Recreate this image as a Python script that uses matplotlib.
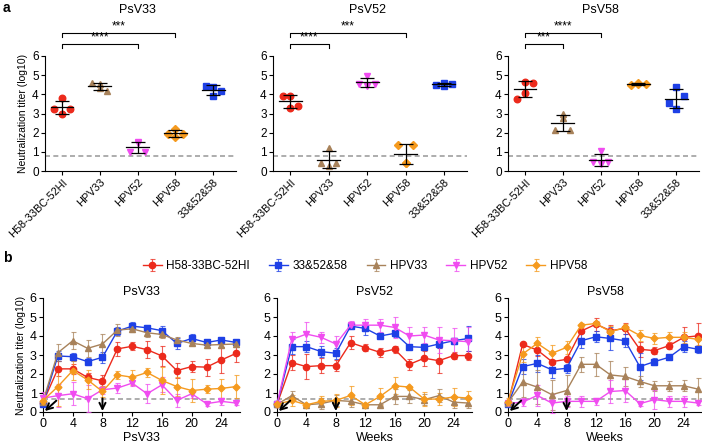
import numpy as np
import matplotlib.pyplot as plt

plt.rcParams["font.family"] = ["Liberation Sans", "DejaVu Sans"]
plt.rcParams["font.size"] = 7.5

# ---- panel a: endpoint titers (4 mice per group) ----
groups = ["H58-33BC-52HI", "HPV33", "HPV52", "HPV58", "33&52&58"]
psv_names = ["PsV33", "PsV52", "PsV58"]

titer_psv33 = [
    [3.25, 3.81, 3.25, 2.99],
    [4.60, 4.55, 4.20, 4.35],
    [1.00, 1.50, 1.00, 1.45],
    [1.95, 2.20, 1.95, 1.75],
    [4.45, 4.40, 4.15, 3.90],
]
titer_psv52 = [
    [3.93, 3.93, 3.41, 3.27],
    [0.44, 1.22, 0.44, 0.26],
    [4.55, 4.95, 4.55, 4.45],
    [1.35, 0.44, 1.35, 0.44],
    [4.50, 4.60, 4.55, 4.45],
]
titer_psv58 = [
    [3.77, 4.64, 4.57, 4.09],
    [2.14, 2.96, 2.14, 2.78],
    [0.47, 1.05, 0.47, 0.38],
    [4.50, 4.60, 4.55, 4.55],
    [3.57, 4.40, 3.90, 3.25],
]
titers_a = [titer_psv33, titer_psv52, titer_psv58]

# significance brackets: (group a, group b, label, level)
sig_psv33 = [(0, 3, "***", "upper"), (0, 2, "****", "lower")]
sig_psv52 = [(0, 3, "***", "upper"), (0, 1, "****", "lower")]
sig_psv58 = [(0, 2, "****", "upper"), (0, 1, "***", "lower")]
sigs = [sig_psv33, sig_psv52, sig_psv58]

cutoff_a = 0.78
cutoff_b = 0.68

# ---- panel b: time course ----
weeks = [0, 2, 4, 6, 8, 10, 12, 14, 16, 18, 20, 22, 24, 26]
series_names = ["H58-33BC-52HI", "33&52&58", "HPV33", "HPV52", "HPV58"]

# PsV33
b33_mean = {
    "H58-33BC-52HI": [0.50, 2.27, 2.27, 1.82, 1.64, 3.32, 3.46, 3.28, 2.95, 2.18, 2.39, 2.36, 2.74, 3.09],
    "33&52&58":      [0.42, 2.95, 2.91, 2.65, 2.88, 4.26, 4.52, 4.43, 4.28, 3.61, 3.87, 3.66, 3.79, 3.66],
    "HPV33":         [0.55, 3.12, 3.75, 3.35, 3.58, 4.31, 4.38, 4.17, 4.08, 3.79, 3.61, 3.52, 3.55, 3.58],
    "HPV52":         [0.73, 0.86, 0.96, 0.70, 1.17, 1.26, 1.52, 0.96, 1.43, 0.61, 0.96, 0.44, 0.56, 0.47],
    "HPV58":         [0.60, 1.34, 2.18, 1.69, 1.08, 1.95, 1.83, 2.08, 1.66, 1.34, 1.13, 1.20, 1.24, 1.34],
}
b33_sd = {
    "H58-33BC-52HI": [0.10, 0.40, 0.25, 0.25, 0.30, 0.35, 0.20, 0.45, 0.55, 0.40, 0.30, 0.45, 0.70, 0.45],
    "33&52&58":      [0.05, 0.25, 0.20, 0.20, 0.30, 0.20, 0.20, 0.15, 0.25, 0.30, 0.25, 0.10, 0.10, 0.15],
    "HPV33":         [0.10, 0.45, 0.45, 0.45, 0.55, 0.30, 0.15, 0.20, 0.20, 0.15, 0.10, 0.15, 0.15, 0.15],
    "HPV52":         [0.30, 0.60, 0.60, 0.70, 0.20, 0.25, 0.15, 0.50, 0.40, 0.35, 0.20, 0.10, 0.20, 0.10],
    "HPV58":         [0.20, 1.00, 0.50, 0.50, 0.30, 0.20, 0.40, 0.25, 0.70, 0.50, 0.60, 0.20, 0.50, 0.60],
}
# PsV52
b52_mean = {
    "H58-33BC-52HI": [0.40, 2.60, 2.39, 2.44, 2.44, 3.65, 3.39, 3.14, 3.30, 2.51, 2.83, 2.70, 2.97, 2.97],
    "33&52&58":      [0.40, 3.44, 3.44, 3.18, 3.09, 4.52, 4.40, 4.00, 4.14, 3.44, 3.40, 3.58, 3.75, 3.87],
    "HPV33":         [0.40, 0.86, 0.38, 0.44, 0.61, 0.56, 0.38, 0.38, 0.82, 0.82, 0.65, 0.86, 0.52, 0.47],
    "HPV52":         [0.40, 3.82, 4.10, 3.93, 3.58, 4.57, 4.57, 4.57, 4.45, 4.00, 4.05, 3.79, 3.75, 3.70],
    "HPV58":         [0.40, 0.61, 0.38, 0.56, 0.61, 0.87, 0.38, 0.82, 1.38, 1.31, 0.68, 0.68, 0.79, 0.73],
}
b52_sd = {
    "H58-33BC-52HI": [0.05, 0.40, 0.65, 0.40, 0.30, 0.35, 0.20, 0.25, 0.20, 0.30, 0.40, 0.65, 0.20, 0.25],
    "33&52&58":      [0.05, 0.40, 0.30, 0.30, 0.30, 0.10, 0.35, 0.10, 0.20, 0.10, 0.10, 0.20, 0.15, 0.65],
    "HPV33":         [0.05, 0.25, 0.05, 0.30, 0.30, 0.30, 0.05, 0.05, 0.40, 0.35, 0.30, 0.35, 0.30, 0.25],
    "HPV52":         [0.05, 0.40, 0.65, 0.30, 0.40, 0.20, 0.30, 0.35, 0.55, 0.50, 0.40, 0.70, 0.65, 0.80],
    "HPV58":         [0.05, 0.30, 0.05, 0.30, 0.35, 0.50, 0.05, 0.45, 0.45, 0.05, 0.35, 0.30, 0.45, 0.40],
}
# PsV58
b58_mean = {
    "H58-33BC-52HI": [0.45, 3.56, 3.26, 2.65, 2.77, 4.26, 4.62, 4.28, 4.40, 3.30, 3.23, 3.49, 3.93, 4.01],
    "33&52&58":      [0.40, 2.39, 2.56, 2.22, 2.30, 3.75, 3.96, 3.87, 3.75, 2.39, 2.65, 2.88, 3.44, 3.30],
    "HPV33":         [0.50, 1.57, 1.31, 0.91, 1.13, 2.51, 2.51, 1.95, 1.87, 1.61, 1.38, 1.38, 1.38, 1.20],
    "HPV52":         [0.45, 0.52, 0.87, 0.47, 0.56, 0.56, 0.56, 1.08, 1.13, 0.44, 0.65, 0.56, 0.56, 0.47],
    "HPV58":         [0.55, 3.05, 3.61, 3.09, 3.40, 4.57, 4.66, 4.22, 4.45, 4.03, 3.87, 3.93, 3.93, 3.82],
}
b58_sd = {
    "H58-33BC-52HI": [0.05, 0.05, 0.30, 0.10, 0.10, 0.10, 0.35, 0.30, 0.30, 0.40, 0.20, 0.20, 0.55, 0.70],
    "33&52&58":      [0.05, 0.40, 0.45, 0.45, 0.25, 0.40, 0.30, 0.60, 0.35, 0.70, 0.20, 0.10, 0.30, 0.20],
    "HPV33":         [0.10, 0.80, 0.90, 0.80, 0.80, 0.40, 0.60, 0.75, 0.50, 0.30, 0.25, 0.25, 0.30, 0.60],
    "HPV52":         [0.10, 0.20, 0.55, 0.50, 0.30, 0.30, 0.20, 0.60, 0.60, 0.10, 0.50, 0.30, 0.30, 0.10],
    "HPV58":         [0.20, 0.40, 0.35, 0.45, 0.35, 0.10, 0.15, 0.30, 0.20, 0.30, 0.30, 0.30, 0.30, 0.30],
}
b_means = [b33_mean, b52_mean, b58_mean]
b_sds = [b33_sd, b52_sd, b58_sd]
b_xlabels = ["PsV33", "Weeks", "Weeks"]
boost_weeks = [0, 8]

# styles
colors = {
    "H58-33BC-52HI": "#ec2a1c",
    "33&52&58": "#1e40e6",
    "HPV33": "#a8825a",
    "HPV52": "#f04cf0",
    "HPV58": "#f59a1e",
}
markers = {
    "H58-33BC-52HI": "o",
    "33&52&58": "s",
    "HPV33": "^",
    "HPV52": "v",
    "HPV58": "D",
}
msize = {"H58-33BC-52HI": 4.5, "33&52&58": 4.5, "HPV33": 4.5, "HPV52": 4.5, "HPV58": 3.5}
jitter = [-0.2, 0.0, 0.2, 0.0]

fig = plt.figure(figsize=(7.02, 4.45), dpi=100)

W, H = 702.0, 445.0
a_left = [45, 273, 508]
a_right = [236, 467, 699]
b_left = [43, 277, 508]
b_right = [240, 472, 702]


def style_axes(ax, size):
    for s in ["top", "right"]:
        ax.spines[s].set_visible(False)
    ax.spines["left"].set_linewidth(0.8)
    ax.spines["bottom"].set_linewidth(0.8)
    ax.tick_params(direction="out", length=3, width=0.8, labelsize=size, pad=1.5)


# ---- panel a ----
for i in range(3):
    ax = fig.add_axes([a_left[i] / W, (H - 171) / H,
                       (a_right[i] - a_left[i]) / W, 115 / H])
    style_axes(ax, 8.5)
    ax.set_xlim(-0.45, 4.6)
    ax.set_ylim(0, 6)
    ax.set_yticks(range(7))
    ax.set_xticks(range(len(groups)))
    ax.set_xticklabels(groups, rotation=45, ha="right", rotation_mode="anchor",
                       fontsize=7.8)
    ax.axhline(cutoff_a, color="#a0a0a0", ls=(0, (3, 2)), lw=1.2, zorder=1)
    for g, vals in enumerate(titers_a[i]):
        name = groups[g]
        xs = [g + j for j in jitter]
        ax.plot(xs, vals, ls="none", marker=markers[name], ms=msize[name] + 0.2,
                color=colors[name], zorder=3, clip_on=False)
        m = np.mean(vals)
        sd = np.std(vals, ddof=1)
        ax.plot([g - 0.3, g + 0.3], [m, m], color="black", lw=0.9, zorder=4)
        ax.errorbar(g, m, yerr=sd, color="black", lw=0.9, capsize=5,
                    capthick=0.9, zorder=4)
    # brackets
    for ga, gb, lab, lvl in sigs[i]:
        yb = 7.2 if lvl == "upper" else 6.62
        ax.plot([ga, ga, gb, gb], [yb - 0.2, yb, yb, yb - 0.2], color="black",
                lw=0.8, clip_on=False)
        ax.text((ga + gb) / 2, yb + 0.02, lab, ha="center", va="bottom",
                fontsize=8.5)
    ax.text(2, 8.4, psv_names[i], ha="center", va="center", fontsize=9)
    if i == 0:
        ax.set_ylabel("Neutralization titer (log10)", fontsize=7.5, labelpad=3)

fig.text(3 / W, 1 - 8 / H, "a", fontsize=10, fontweight="bold", va="center")
fig.text(3 / W, 1 - 258 / H, "b", fontsize=10, fontweight="bold", va="center")

# ---- panel b ----
handles = []
arrow_style = dict(arrowstyle="->", color="black", lw=1.4, mutation_scale=11,
                   shrinkA=0, shrinkB=0)
for i in range(3):
    ax = fig.add_axes([b_left[i] / W, (H - 412) / H,
                       (b_right[i] - b_left[i]) / W, 114 / H])
    style_axes(ax, 9)
    ax.set_xlim(0, 26.5)
    ax.set_ylim(0, 6)
    ax.set_yticks(range(7))
    ax.set_xticks(range(0, 25, 4))
    ax.axhline(cutoff_b, color="#a0a0a0", ls=(0, (3, 2)), lw=1.2, zorder=1)
    for name in series_names:
        h = ax.errorbar(weeks, b_means[i][name], yerr=b_sds[i][name],
                        color=colors[name], marker=markers[name], ms=msize[name],
                        lw=1.0, elinewidth=0.8, capsize=1.8, capthick=0.8,
                        ecolor=colors[name], label=name, clip_on=False, zorder=3)
        for art in h.lines[1] + h.lines[2]:
            art.set_alpha(0.75)
        if i == 0:
            handles.append(h)
    ax.annotate("", xy=(boost_weeks[0] + 0.25, 0.05), xytext=(1.8, 0.6),
                arrowprops=arrow_style, annotation_clip=False, zorder=5)
    ax.annotate("", xy=(boost_weeks[1], 0.05), xytext=(boost_weeks[1], 0.72),
                arrowprops=arrow_style, annotation_clip=False, zorder=5)
    ax.set_title(psv_names[i], fontsize=9, pad=2)
    ax.set_xlabel(b_xlabels[i], fontsize=9, labelpad=1)
    if i == 0:
        ax.set_ylabel("Neutralization titer (log10)", fontsize=7.5, labelpad=3)

fig.legend(handles=handles, labels=series_names, loc="center",
           bbox_to_anchor=(365 / W, 1 - 266 / H), ncol=5, frameon=False,
           fontsize=8.5, handlelength=1.6, columnspacing=1.6, handletextpad=0.4)

fig.savefig("out.png", dpi=100)
